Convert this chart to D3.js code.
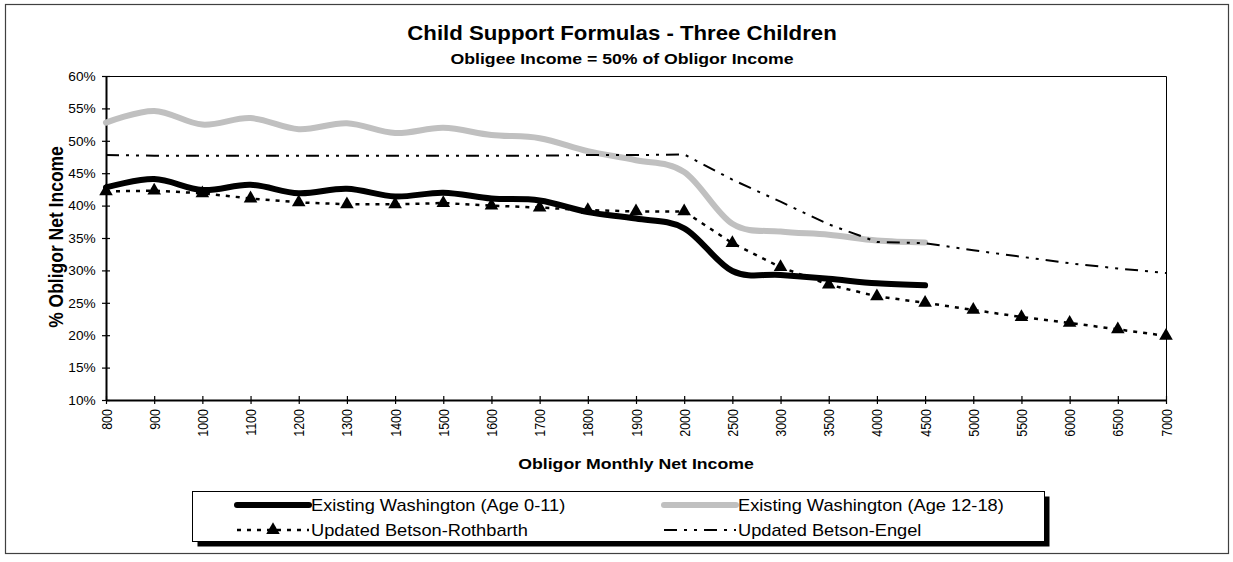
<!DOCTYPE html>
<html>
<head>
<meta charset="utf-8">
<script src="https://cdn.jsdelivr.net/npm/d3@7"></script>
<style>
  body { margin: 0; background: #fff; }
  svg { display: block; }
</style>
</head>
<body>
<svg id="chart" width="1233" height="562"></svg>
<script>
// DATA
var incomeLabels = ["800","900","1000","1100","1200","1300","1400","1500","1600","1700","1800","1900","2000",
                    "2500","3000","3500","4000","4500","5000","5500","6000","6500","7000"];
var yTicks = [10, 15, 20, 25, 30, 35, 40, 45, 50, 55, 60];

// existing WA schedule stops at 4500
var waYoung = [42.8, 44.1, 42.4, 43.2, 41.9, 42.6, 41.4, 42.0, 41.1, 40.8, 39.0, 38.0, 36.5,
               29.9, 29.3, 28.7, 28.0, 27.7];
var waOld   = [52.8, 54.6, 52.5, 53.5, 51.8, 52.7, 51.2, 52.0, 50.9, 50.4, 48.4, 47.0, 45.2,
               37.2, 36.0, 35.5, 34.6, 34.3];
var rothbarth = [42.2, 42.3, 41.9, 41.1, 40.5, 40.2, 40.2, 40.4, 40.0, 39.7, 39.3, 39.1, 39.1,
                 34.2, 30.5, 27.8, 26.0, 25.0, 23.9, 22.8, 21.9, 20.9, 19.9];
var engel = [47.8, 47.7, 47.7, 47.7, 47.7, 47.7, 47.7, 47.7, 47.7, 47.7, 47.8, 47.8, 47.9,
             44.0, 40.6, 37.1, 34.4, 34.2, 33.1, 32.1, 31.1, 30.3, 29.6];

var seriesNames = ["Existing Washington (Age 0-11)", "Existing Washington (Age 12-18)",
                   "Updated Betson-Rothbarth", "Updated Betson-Engel"];

// LAYOUT
var FONT = "Arial, 'Liberation Sans', sans-serif";
var SX = 1.14;   // the original picture is a bit stretched sideways
var PLOT_LEFT = 106, PLOT_RIGHT = 1166, PLOT_TOP = 76, PLOT_BOTTOM = 400;
var ROTH_DASH = "4,6";
var ENGEL_DASH = "13,7,3,7,3,7";
var TRI_SIZE = 80;

var svg = d3.select("#chart");

function addText(parent, x, y, str, size, weight, anchor, rot) {
    var g = parent.append("g")
        .attr("transform", "translate(" + x + "," + y + ") scale(" + SX + ",1)" + (rot ? " rotate(" + rot + ")" : ""));
    return g.append("text")
        .attr("font-family", FONT)
        .attr("font-size", size)
        .attr("font-weight", weight || "normal")
        .attr("text-anchor", anchor || "start")
        .attr("fill", "#000")
        .text(str);
}

// outer chart border
svg.append("rect")
    .attr("x", 5.5).attr("y", 4.5)
    .attr("width", 1223).attr("height", 549)
    .attr("fill", "#fff")
    .attr("stroke", "#404040")
    .attr("stroke-width", 1.2);

// titles
addText(svg, 622, 40, "Child Support Formulas - Three Children", 19.5, "bold", "middle");
addText(svg, 622, 64, "Obligee Income = 50% of Obligor Income", 15.5, "bold", "middle");

// scales
var x = d3.scalePoint().domain(incomeLabels).range([PLOT_LEFT, PLOT_RIGHT]);
var y = d3.scaleLinear().domain([10, 60]).range([PLOT_BOTTOM, PLOT_TOP]);

// plot frame (top + right)
svg.append("path")
    .attr("d", "M" + x.range()[0] + "," + (y.range()[1] + 0.5) + "H" + (x.range()[1] + 0.5) + "V" + y.range()[0])
    .attr("fill", "none")
    .attr("stroke", "#000")
    .attr("stroke-width", 1);

// x axis
var gx = svg.append("g")
    .attr("transform", "translate(0," + PLOT_BOTTOM + ")")
    .call(d3.axisBottom(x).tickSize(4).tickSizeOuter(0));
gx.select(".domain").attr("stroke-width", 2);
gx.selectAll(".tick line").attr("y1", -4).attr("y2", 4).attr("stroke-width", 1.2);
gx.selectAll(".tick text")
    .attr("x", 0).attr("y", 0).attr("dy", "0.35em")
    .attr("text-anchor", "end")
    .attr("font-family", FONT)
    .attr("font-size", 12.5)
    .attr("transform", "translate(0,9) scale(" + SX + ",1) rotate(-90)");

// y axis
var gy = svg.append("g")
    .attr("transform", "translate(" + PLOT_LEFT + ",0)")
    .call(d3.axisLeft(y).tickValues(yTicks).tickFormat(function(d){ return d + "%"; }).tickSize(4).tickSizeOuter(0));
gy.select(".domain").attr("stroke-width", 2);
gy.selectAll(".tick line").attr("x1", 4).attr("x2", -4).attr("stroke-width", 1.2);
gy.selectAll(".tick text")
    .attr("x", -9).attr("dy", "0.35em")
    .attr("font-family", FONT)
    .attr("font-size", 12)
    .attr("transform", "scale(" + SX + ",1)");

// axis titles
addText(svg, 63, 237, "% Obligor Net Income", 17.5, "bold", "middle", -90);
addText(svg, 636, 469, "Obligor Monthly Net Income", 15.5, "bold", "middle");

// lines
var straight = d3.line()
    .x(function(d, i){ return x(incomeLabels[i]); })
    .y(function(d){ return y(d); });
var smooth = d3.line()
    .x(function(d, i){ return x(incomeLabels[i]); })
    .y(function(d){ return y(d); })
    .curve(d3.curveCardinal.tension(0));

svg.append("path").datum(waYoung)
    .attr("d", smooth)
    .attr("fill", "none").attr("stroke", "#000")
    .attr("stroke-width", 6).attr("stroke-linecap", "round").attr("stroke-linejoin", "round");

svg.append("path").datum(waOld)
    .attr("d", smooth)
    .attr("fill", "none").attr("stroke", "#c0c0c0")
    .attr("stroke-width", 6).attr("stroke-linecap", "round").attr("stroke-linejoin", "round");

svg.append("path").datum(rothbarth)
    .attr("d", straight)
    .attr("fill", "none").attr("stroke", "#000")
    .attr("stroke-width", 2.5).attr("stroke-dasharray", ROTH_DASH);

svg.selectAll(".tri").data(rothbarth).enter()
    .append("path")
    .attr("class", "tri")
    .attr("d", d3.symbol().type(d3.symbolTriangle).size(TRI_SIZE))
    .attr("transform", function(d, i){ return "translate(" + x(incomeLabels[i]) + "," + y(d) + ")"; })
    .attr("fill", "#000");

svg.append("path").datum(engel)
    .attr("d", straight)
    .attr("fill", "none").attr("stroke", "#000")
    .attr("stroke-width", 2).attr("stroke-dasharray", ENGEL_DASH);

// legend
var LEG_X = 192.5, LEG_Y = 491.5, LEG_W = 852, LEG_H = 50;
var legendCols = [237, 664];
var legendRows = [505, 530];
var SAMPLE_W = 72;

var lg = svg.append("g");
lg.append("rect")
    .attr("x", LEG_X + 5).attr("y", LEG_Y + 5)
    .attr("width", LEG_W).attr("height", LEG_H)
    .attr("fill", "#000");
lg.append("rect")
    .attr("x", LEG_X).attr("y", LEG_Y)
    .attr("width", LEG_W).attr("height", LEG_H)
    .attr("fill", "#fff").attr("stroke", "#000").attr("stroke-width", 1);

seriesNames.forEach(function(name, i){
    var cx = legendCols[i % 2], cy = legendRows[Math.floor(i / 2)];
    var ln = lg.append("line")
        .attr("x1", cx).attr("x2", cx + SAMPLE_W)
        .attr("y1", cy).attr("y2", cy)
        .attr("stroke", "#000");
    if (i == 0) ln.attr("stroke-width", 6).attr("stroke-linecap", "round");
    if (i == 1) ln.attr("stroke", "#c0c0c0").attr("stroke-width", 6).attr("stroke-linecap", "round");
    if (i == 2) {
        ln.attr("stroke-width", 2.5).attr("stroke-dasharray", ROTH_DASH);
        lg.append("path")
            .attr("d", d3.symbol().type(d3.symbolTriangle).size(TRI_SIZE))
            .attr("transform", "translate(" + (cx + SAMPLE_W / 2) + "," + cy + ")")
            .attr("fill", "#000");
    }
    if (i == 3) ln.attr("stroke-width", 2).attr("stroke-dasharray", ENGEL_DASH);
    addText(lg, cx + SAMPLE_W + 2, cy, name, 16, "normal", "start").attr("dy", "0.35em");
});
</script>
</body>
</html>
